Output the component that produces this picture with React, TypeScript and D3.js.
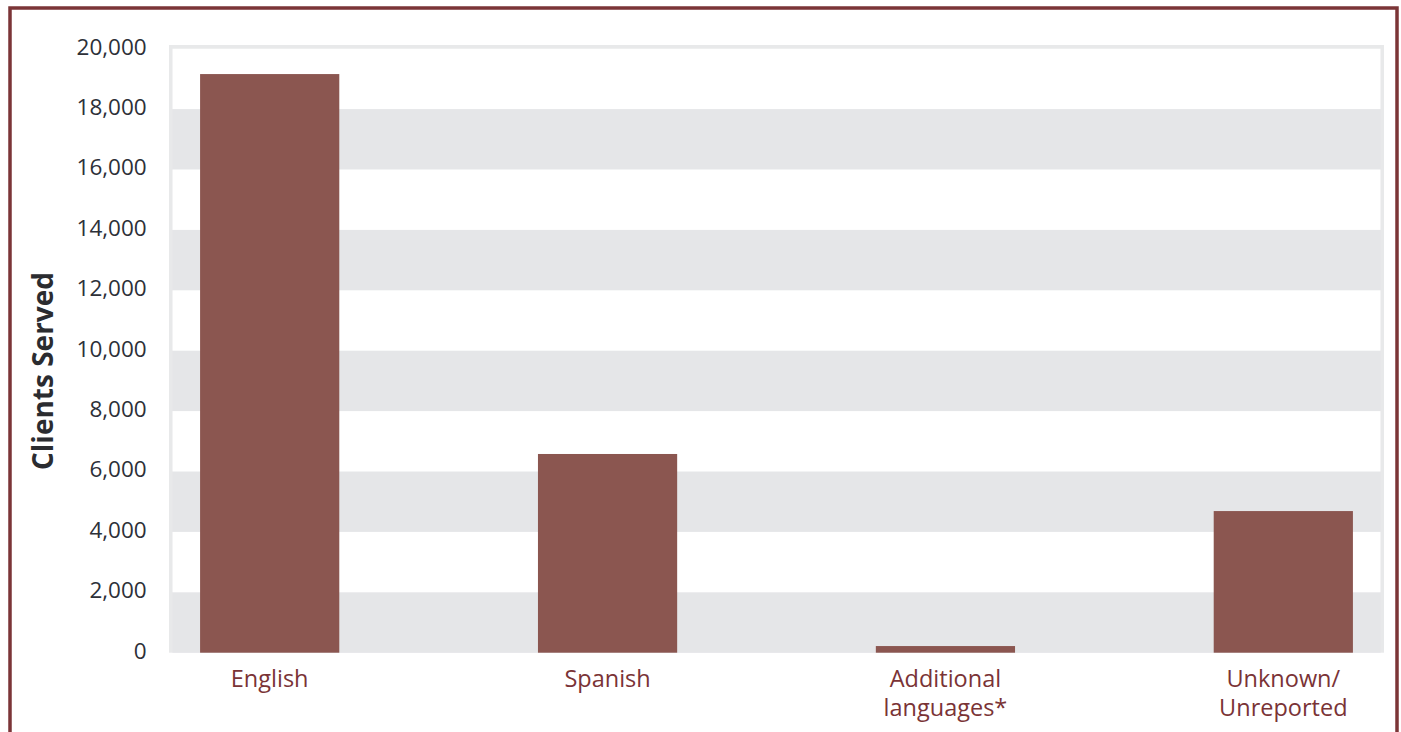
import React from "react";
import * as d3 from "d3";

const categories: string[][] = [
  ["English"],
  ["Spanish"],
  ["Additional", "languages*"],
  ["Unknown/", "Unreported"],
];
const categoryKeys = ["English", "Spanish", "Additional languages*", "Unknown/Unreported"];
const clientsServed = [19160, 6580, 220, 4690];
const yTicks = [0, 2000, 4000, 6000, 8000, 10000, 12000, 14000, 16000, 18000, 20000];
const yTitle = "Clients Served";

const W = 1401;
const H = 732;
const plotLeft = 169;
const plotRight = 1384;
const yZero = 652.7;
const yTop = 48.7;

const FONT = "'Open Sans', 'Noto Sans', sans-serif";

export default function App() {
  const y = d3.scaleLinear().domain([0, 20000]).range([yZero, yTop]);
  const x = d3
    .scaleBand<string>()
    .domain(categoryKeys)
    .range([plotLeft, plotRight])
    .paddingInner(0.588)
    .paddingOuter(0.092);
  const fmt = d3.format(",");

  const whiteBands: [number, number][] = [];
  for (let i = 0; i < yTicks.length - 1; i++) {
    if (i % 2 === 1) whiteBands.push([yTicks[i], yTicks[i + 1]]);
  }

  return (
    <svg
      width={W}
      height={H}
      style={{ position: "absolute", left: 0, top: 0, background: "#ffffff" }}
    >
      {/* outer frame */}
      <rect x={10} y={8} width={1387} height={800} fill="none" stroke="#7b3537" strokeWidth={3.5} />

      {/* plot background */}
      <rect x={plotLeft} y={45} width={plotRight - plotLeft} height={yZero - 45} fill="#e8e9ea" />
      <rect
        x={plotLeft + 3.5}
        y={yTop}
        width={plotRight - plotLeft - 7}
        height={yZero - yTop}
        fill="#e5e6e8"
      />
      {whiteBands.map(([a, b], i) => (
        <rect
          key={i}
          x={plotLeft + 3.5}
          y={y(b)}
          width={plotRight - plotLeft - 7}
          height={y(a) - y(b)}
          fill="#ffffff"
        />
      ))}

      {/* bars */}
      {categoryKeys.map((c, i) => (
        <rect
          key={c}
          x={x(c)}
          y={y(clientsServed[i])}
          width={x.bandwidth()}
          height={yZero - y(clientsServed[i])}
          fill="#8b5650"
        />
      ))}

      {/* y tick labels */}
      {yTicks.map((t) => (
        <text
          key={t}
          x={146.7}
          y={y(t) - 2}
          dy="0.35em"
          textAnchor="end"
          fontFamily={FONT}
          fontSize={22.5}
          fill="#2d3038"
        >
          {fmt(t)}
        </text>
      ))}

      {/* y title */}
      <text
        transform={`translate(53,371) rotate(-90)`}
        textAnchor="middle"
        fontFamily={FONT}
        fontWeight={700}
        fontSize={28}
        fill="#2b2c30"
      >
        {yTitle}
      </text>

      {/* category labels */}
      {categoryKeys.map((c, i) => (
        <text
          key={c}
          x={(x(c) as number) + x.bandwidth() / 2}
          y={686.7}
          textAnchor="middle"
          fontFamily={FONT}
          fontSize={23.5}
          fill="#7a3336"
        >
          {categories[i].map((line, j) => (
            <tspan key={j} x={(x(c) as number) + x.bandwidth() / 2} dy={j === 0 ? 0 : 29}>
              {line}
            </tspan>
          ))}
        </text>
      ))}
    </svg>
  );
}
